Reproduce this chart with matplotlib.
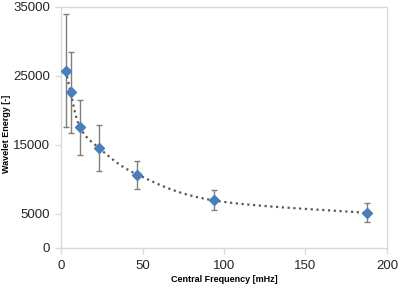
import matplotlib
matplotlib.use('Agg')
import matplotlib.pyplot as plt
import numpy as np

plt.rcParams['font.family'] = ['Liberation Sans', 'DejaVu Sans']

# data
freq = [2.93, 5.86, 11.7, 23.4, 46.9, 93.75, 187.5]
energy = [25750, 22600, 17500, 14500, 10650, 6900, 5100]
err = [8200, 5900, 4000, 3300, 2050, 1450, 1400]

fig = plt.figure(figsize=(4, 2.91), dpi=100)
ax = fig.add_axes([0.1525, 0.148, 0.815, 0.828])
ax.set_xlim(0, 200)
ax.set_ylim(0, 35000)


def smooth(x, y, n=30):
    # excel-style smoothed line (catmull-rom bezier), done in axes pixel space
    sx, sy = 326 / 200, 241 / 35000
    p = np.column_stack([np.array(x) * sx, np.array(y) * sy])
    p = np.vstack([p[0], p, p[-1]])
    out = []
    t = np.linspace(0, 1, n)[:, None]
    for i in range(1, len(p) - 2):
        p0, p1, p2, p3 = p[i - 1], p[i], p[i + 1], p[i + 2]
        c1 = p1 + (p2 - p0) / 6
        c2 = p2 - (p3 - p1) / 6
        seg = ((1 - t) ** 3) * p1 + 3 * ((1 - t) ** 2) * t * c1 + 3 * (1 - t) * t ** 2 * c2 + t ** 3 * p2
        out.append(seg)
    out = np.vstack(out)
    return out[:, 0] / sx, out[:, 1] / sy


xs, ys = smooth(freq, energy)
ax.plot(xs, ys, ls=(0, (1, 1.6)), color='#595959', lw=1.6, zorder=2)

ax.errorbar(freq, energy, yerr=err, fmt='none', ecolor='#7f7f7f', elinewidth=1,
            capsize=2.3, capthick=1, zorder=1)
ax.plot(freq, energy, 'D', color='#4a7ebb', markersize=5.2, zorder=3)

ax.set_xticks([0, 50, 100, 150, 200])
ax.set_yticks([0, 5000, 15000, 25000, 35000])
for s in ax.spines.values():
    s.set_color('#d9d9d9')
    s.set_linewidth(1)
ax.tick_params(axis='both', colors='#d9d9d9', labelcolor='#262626', labelsize=9.5,
               length=4, width=1)
ax.tick_params(axis='x', pad=5)
ax.tick_params(axis='y', pad=4)

ax.set_xlabel('Central Frequency [mHz]', fontsize=6.5, fontweight='bold', labelpad=2)
ax.set_ylabel('Wavelet Energy [-]', fontsize=6.5, fontweight='bold')
ax.yaxis.set_label_coords(-0.153, 0.473)

plt.savefig('out.png', dpi=100)
